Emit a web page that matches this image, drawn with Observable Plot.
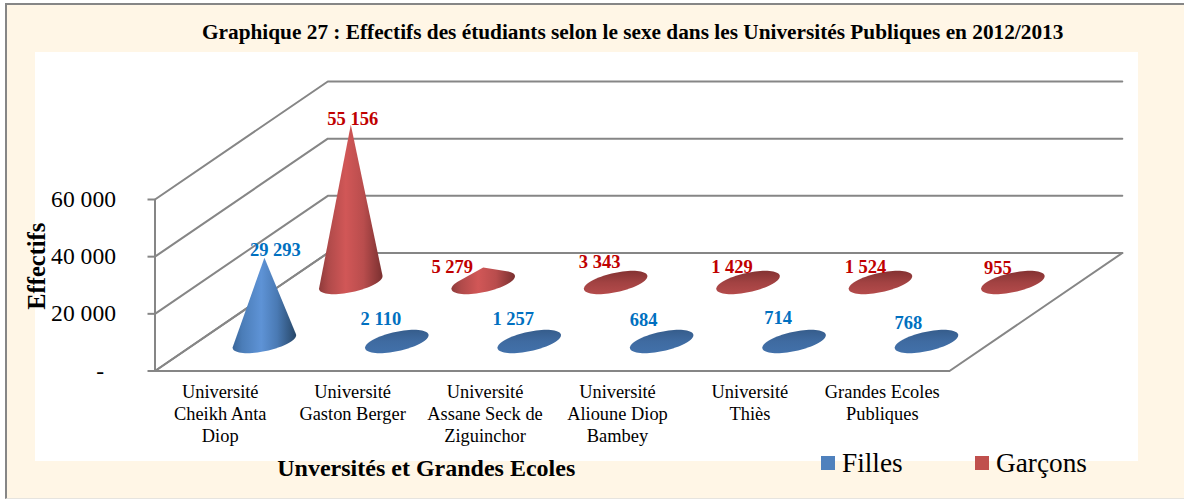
<!DOCTYPE html>
<html lang="fr">
<head>
<meta charset="utf-8">
<script src="https://cdn.jsdelivr.net/npm/d3@7"></script>
<script src="https://cdn.jsdelivr.net/npm/@observablehq/plot@0.6"></script>
<style>
html,body{margin:0;padding:0;background:#fff;overflow:hidden;}
#stage{position:relative;width:1184px;height:499px;font-family:"Liberation Serif",serif;overflow:hidden;}
#bg{position:absolute;left:5px;top:3px;width:1200px;height:493px;background:#FFF6E6;border-left:2px solid #868686;border-top:2px solid #868686;border-bottom:1px solid #e6e4df;}
#panel{position:absolute;left:35px;top:52px;width:1103px;height:409px;background:#fff;}
#chart{position:absolute;left:0;top:0;}
#title{position:absolute;left:202px;top:19px;font-weight:bold;font-size:21.3px;line-height:26px;white-space:nowrap;color:#000;}
#legend .sw{position:absolute;top:456px;width:14px;height:14px;}
#legend .lb{position:absolute;top:447px;font-size:27.3px;line-height:32px;color:#000;white-space:nowrap;}
</style>
</head>
<body>
<div id="stage">
  <div id="bg"></div>
  <div id="panel"></div>
  <div id="title">Graphique 27 : Effectifs des étudiants selon le sexe dans les Universités Publiques en 2012/2013</div>
  <div id="chart"></div>
  <div id="legend"></div>
</div>
<script>
const categories = ["Université\nCheikh Anta\nDiop","Université\nGaston Berger","Université\nAssane Seck de\nZiguinchor","Université\nAlioune Diop\nBambey","Université\nThiès","Grandes Ecoles\nPubliques"];
const filles = [29293, 2110, 1257, 684, 714, 768];
const garcons = [55156, 5279, 3343, 1429, 1524, 955];
const yTicks = [0, 20000, 40000, 60000];
const seriesNames = ["Filles", "Garçons"];

// Layout of the pseudo-3D view (not data)
const depthToX = 1.305, depthToValue = 41283;
const project = (cat, depth, value) => ({x: cat + depth * depthToX, y: value + depth * depthToValue});
const discCat = 0.202, discDepth = 0.099;
const fillesNudge = [[11,-91],[-16,-22],[-16,-22],[-18,-21],[-16,-23],[-18,-18]];
const garconsNudge = [[2,-163],[-31,-15],[-16,-20],[-16,-15],[-15,-15],[-15,-14]];
const grey = "#868686";

function shape(i, depth, v) {
  const c = i + 0.5, pts = [];
  for (let k = 0; k < 72; k++) {
    const t = k / 72 * 2 * Math.PI;
    const p = project(c + discCat * Math.cos(t), depth + discDepth * Math.sin(t), 0);
    pts.push([p.x, p.y]);
  }
  const a = project(c, depth, v);
  pts.push([a.x, a.y]);
  const hull = d3.polygonHull(pts);
  hull.push(hull[0]);
  return hull.map(([x, y]) => ({x, y}));
}

const wall = yTicks.map(v => [project(0,0,v), project(0,1,v), project(6,1,v)]);
const floor = [project(0,0,0), project(6,0,0), project(6,1,0), project(0,1,0)];
const spine = [project(0,0,0), project(0,0,60000)];

function coneMark(i, depth, v, name) {
  const isCone = v > 5000;
  const grad = (name === "f" ? "f" : "g") + (isCone ? "Cone" : "Disc");
  return Plot.line(shape(i, depth, v), {x:"x", y:"y", fill:`url(#${grad})`, stroke:"none", curve:"linear"});
}
function labelMark(i, depth, v, nudge, color) {
  const p = project(i + 0.5, depth, 0);
  return Plot.text([p], {x:"x", y:"y", text:() => String(v).replace(/\B(?=(\d{3})+$)/g, " "),
    dx:nudge[0], dy:nudge[1], fill:color, fontWeight:"bold", fontSize:18.5});
}
function gradients() {
  const defs = d3.create("svg:defs");
  const add = (id, vertical, stops) => {
    const g = defs.append("linearGradient").attr("id", id)
      .attr("x1","0").attr("y1","0").attr("x2", vertical ? "0" : "1").attr("y2", vertical ? "1" : "0");
    stops.forEach(([o, c]) => g.append("stop").attr("offset", o).attr("stop-color", c));
  };
  add("fCone", false, [[0,"#3a669a"],[0.15,"#4b7db8"],[0.45,"#5e93d6"],[0.7,"#4a7ab4"],[1,"#274768"]]);
  add("gCone", false, [[0,"#8f3b3b"],[0.15,"#b04a4a"],[0.42,"#d15757"],[0.7,"#b94d4d"],[1,"#7a3030"]]);
  add("fDisc", true, [[0,"#365d8c"],[0.5,"#3f6ba1"],[1,"#4271aa"]]);
  add("gDisc", true, [[0,"#843232"],[0.5,"#a24242"],[1,"#b44b4b"]]);
  return defs.node();
}

const plot = Plot.plot({
  width: 1184, height: 499,
  marginLeft: 154.5, marginRight: 235, marginTop: 199, marginBottom: 128.5,
  x: {domain: [0, 6], axis: null},
  y: {domain: [0, 60000], axis: null},
  style: {background: "transparent", fontFamily: "'Liberation Serif', serif", color: "#000"},
  marks: [
    gradients,
    ...wall.map(l => Plot.line(l, {x:"x", y:"y", stroke:grey, strokeWidth:2, curve:"linear"})),
    Plot.line([...floor, floor[0]], {x:"x", y:"y", stroke:grey, strokeWidth:2, curve:"linear"}),
    Plot.line(spine, {x:"x", y:"y", stroke:grey, strokeWidth:2}),
    Plot.axisY({ticks: yTicks, tickSize: 7, tickPadding: 32, stroke: grey, strokeWidth: 2, fill: "#000", fontSize: 23.6,
      label: null, tickFormat: d => d === 0 ? "-\u00a0\u00a0" : String(d).replace(/\B(?=(\d{3})+$)/g, " ")}),
    Plot.axisX({ticks: categories.map((_, i) => i + 0.5), tickSize: 0, tickPadding: 12, dx: -1, fontSize: 18.4, lineHeight: 1.18,
      label: null, fill: "#000", tickFormat: d => categories[d - 0.5]}),
    ...garcons.map((v, i) => coneMark(i, 0.75, v, "g")),
    ...filles.map((v, i) => coneMark(i, 0.25, v, "f")),
    ...garcons.map((v, i) => labelMark(i, 0.75, v, garconsNudge[i], "#c00000")),
    ...filles.map((v, i) => labelMark(i, 0.25, v, fillesNudge[i], "#0070c0")),
    Plot.text(["Effectifs"], {frameAnchor:"left", textAnchor:"middle", rotate:-90, dx:-117.5, dy:-19, fontWeight:"bold", fontSize:24.5, fill:"#000"}),
    Plot.text(["Unversités et Grandes Ecoles"], {frameAnchor:"bottom", textAnchor:"middle", dx:-126, dy:104.5, fontWeight:"bold", fontSize:24, fill:"#000"})
  ]
});
document.getElementById("chart").appendChild(plot);

const legendColors = ["#4f81bd", "#c0504d"], legendX = [821, 975];
const legend = document.getElementById("legend");
seriesNames.forEach((n, i) => {
  const s = document.createElement("div");
  s.className = "sw"; s.style.left = legendX[i] + "px"; s.style.background = legendColors[i];
  const t = document.createElement("div");
  t.className = "lb"; t.style.left = (legendX[i] + 21) + "px"; t.textContent = n;
  legend.append(s, t);
});
</script>
</body>
</html>
